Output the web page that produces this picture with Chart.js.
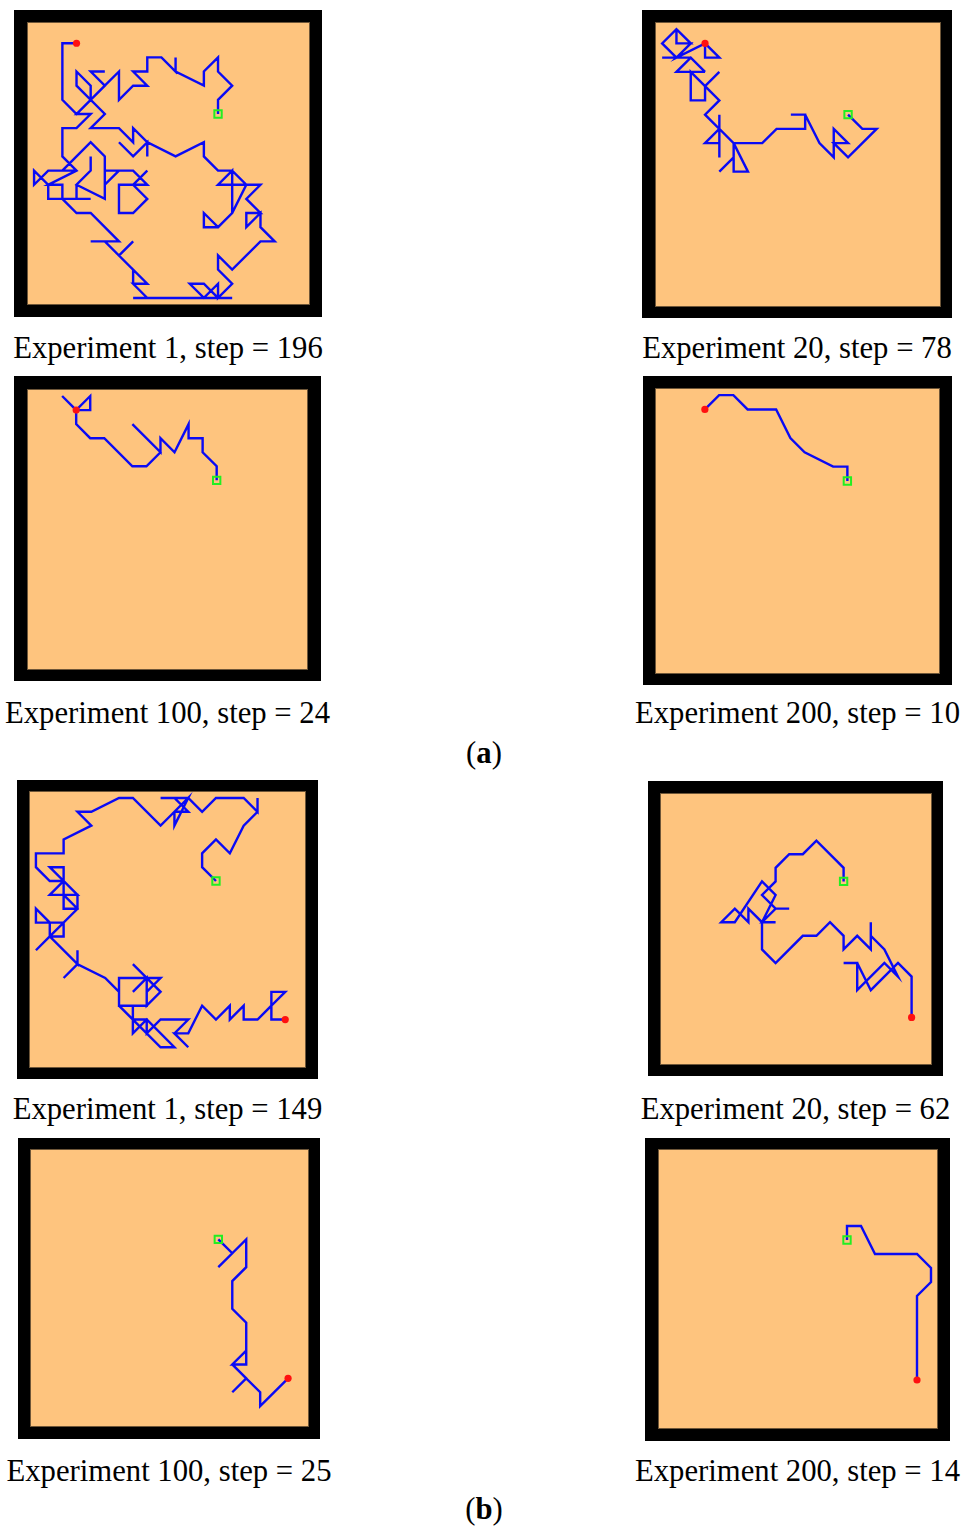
<!DOCTYPE html>
<html>
<head>
<meta charset="utf-8">
<script src="https://cdn.jsdelivr.net/npm/chart.js@4.4.1/dist/chart.umd.min.js"></script>
<style>
  body { margin: 0; background: #fff; width: 968px; height: 1529px; position: relative; overflow: hidden; }
  .frame { position: absolute; background: #000; }
  .panel { position: absolute; }
  .caption { position: absolute; width: 420px; text-align: center; font-family: "Liberation Serif", serif;
             font-size: 30.7px; line-height: 30px; color: #000; white-space: nowrap; }
</style>
</head>
<body>
<script>
// grid world is 20 x 20 cells, points are [column, row] with row 0 at the top
const gridCells = 20;

const captions = [
  'Experiment 1, step = 196', 'Experiment 20, step = 78',
  'Experiment 100, step = 24', 'Experiment 200, step = 10',
  'Experiment 1, step = 149', 'Experiment 20, step = 62',
  'Experiment 100, step = 25', 'Experiment 200, step = 14'
];
const partLabels = ['a', 'b'];

// (a) runs
const pathA1 = [[13,6],[13,5],[14,4],[13,3],[13,2],[12,3],[12,4],[10,3],[10,2],[10,3],[9,2],[8,2],[8,3],[7,3],[8,4],[7,4],
  [6,5],[6,3],[5,4],[4,3],[5,3],[4,3],[5,4],[4,5],[3,4],[3,3],[4,4],[4,5],[5,6],[4,7],[6,7],[7,8],[7,7],[8,8],[7,9],[6,8],
  [7,9],[8,8],[8,9],[8,8],[10,9],[12,8],[12,9],[13,10],[14,10],[15,11],[13,11],[14,10],[14,13],[13,14],[12,14],[12,13],
  [13,14],[14,13],[15,11],[16,11],[15,12],[16,13],[15,13],[15,14],[16,13],[16,14],[17,15],[16,15],[14,17],[13,16],[13,17],
  [14,18],[13,19],[13,18],[12,19],[11,18],[12,18],[13,19],[14,19],[7,19],[8,19],[7,18],[8,18],[7,17],[7,18],[7,17],[6,16],
  [7,15],[6,16],[5,15],[4,15],[6,15],[4,13],[3,13],[2,12],[4,12],[3,12],[3,11],[4,10],[4,9],[4,10],[3,11],[5,12],[5,11],
  [6,10],[5,11],[5,10],[7,10],[8,11],[6,11],[6,13],[7,13],[8,12],[7,11],[8,10],[7,11],[6,11],[8,11],[7,10],[5,10],[5,9],
  [4,8],[2,10],[3,10],[1,10],[0,11],[0,10],[1,11],[3,10],[1,11],[1,12],[2,12],[2,11],[1,11],[3,10],[2,9],[2,7],[3,7],
  [4,6],[3,6],[4,5],[3,6],[2,5],[2,1],[3,1]];
const pathA2 = [[13,6],[14,7],[15,7],[13,9],[12,8],[13,8],[12,7],[12,9],[11,8],[10,6],[9,6],[10,6],[10,7],[8,7],[7,8],[5,8],
  [6,10],[5,10],[5,9],[4,10],[5,9],[5,8],[4,7],[4,6],[4,7],[3,8],[4,8],[4,9],[4,7],[3,6],[4,5],[3,4],[4,3],[3,4],[2,3],
  [2,5],[3,5],[3,4],[2,3],[3,3],[1,3],[2,2],[3,3],[2,2],[0,2],[1,2],[0,1],[1,0],[2,1],[1,1],[1,0],[1,1],[2,1],[1,2],
  [3,1],[3,2],[4,2],[3,1]];
const pathA3 = [[13,6],[13,5],[12,4],[12,3],[11,3],[11,2],[10,4],[9,3],[9,4],[7,2],[9,4],[8,5],[7,5],[5,3],[4,3],[3,2],
  [3,1],[2,0],[3,1],[4,0],[4,1],[3,1]];
const pathA4 = [[13,6],[13,5],[12,5],[10,4],[9,3],[8,1],[6,1],[5,0],[4,0],[3,1]];

// (b) runs
const pathB1 = [[13,6],[12,5],[12,4],[13,3],[14,4],[15,2],[16,1],[16,0],[16,1],[15,0],[13,0],[12,1],[11,0],[9,0],[10,0],
  [11,1],[10,1],[11,0],[10,2],[10,1],[9,2],[7,0],[6,0],[4,1],[3,1],[4,2],[2,3],[2,4],[0,4],[0,5],[1,6],[2,6],[1,5],[2,5],
  [2,8],[3,8],[3,7],[1,7],[2,6],[3,7],[2,7],[3,8],[2,9],[0,9],[0,8],[1,9],[1,10],[2,10],[2,9],[1,10],[0,11],[1,10],[3,12],
  [3,11],[3,12],[2,13],[3,12],[5,13],[6,14],[6,13],[9,13],[8,14],[8,13],[7,14],[8,13],[7,12],[9,14],[8,15],[8,13],[8,15],
  [6,15],[6,14],[6,15],[9,18],[10,18],[8,16],[7,17],[7,15],[7,16],[8,16],[8,17],[9,16],[11,16],[10,17],[11,18],[10,17],
  [11,17],[12,15],[13,16],[14,15],[14,16],[15,15],[15,16],[16,16],[17,15],[17,14],[18,14],[17,15],[17,16],[18,16]];
const pathB2 = [[13,6],[13,5],[11,3],[10,4],[9,4],[8,5],[8,6],[7,7],[8,8],[9,8],[8,8],[7,9],[8,9],[7,9],[6,8],[6,9],[5,8],
  [4,9],[5,9],[7,6],[8,7],[7,9],[7,11],[8,12],[10,10],[11,10],[12,9],[13,10],[13,11],[14,10],[15,11],[15,10],[15,9],
  [15,10],[16,11],[17,13],[16,12],[14,14],[14,12],[13,12],[14,12],[15,14],[17,12],[18,13],[18,16]];
const pathB3 = [[13,6],[14,7],[13,8],[14,7],[15,6],[15,8],[14,9],[14,11],[15,12],[15,15],[14,15],[15,14],[14,15],[15,16],
  [14,17],[15,16],[16,17],[16,18],[18,16]];
const pathB4 = [[13,6],[13,5],[14,5],[15,7],[18,7],[19,8],[19,9],[18,10],[18,16]];

// page layout: black frame box and inner playing field for each run
const panels = [
  { path: pathA1, frame: [14, 10, 308, 307], field: [27, 22, 283, 283], textY: 333 },
  { path: pathA2, frame: [642, 10, 310, 308], field: [655, 22, 286, 285], textY: 333 },
  { path: pathA3, frame: [14, 376, 307, 305], field: [27, 389, 281, 281], textY: 698 },
  { path: pathA4, frame: [643, 376, 309, 309], field: [655, 388, 285, 286], textY: 698 },
  { path: pathB1, frame: [17, 780, 301, 299], field: [29, 791, 277, 277], textY: 1094 },
  { path: pathB2, frame: [648, 781, 295, 295], field: [660, 793, 272, 272], textY: 1094 },
  { path: pathB3, frame: [18, 1138, 302, 301], field: [30, 1149, 279, 278], textY: 1456 },
  { path: pathB4, frame: [645, 1138, 305, 303], field: [658, 1149, 280, 280], textY: 1456 }
];

const fieldBackground = {
  id: 'fieldBackground',
  beforeDatasetsDraw(chart) {
    const { ctx, chartArea: a } = chart;
    ctx.save();
    ctx.fillStyle = '#fec47e';
    ctx.fillRect(a.left, a.top, a.right - a.left, a.bottom - a.top);
    ctx.strokeStyle = '#6e5638';
    ctx.lineWidth = 1;
    ctx.strokeRect(a.left + 0.5, a.top + 0.5, a.right - a.left - 1, a.bottom - a.top - 1);
    ctx.restore();
  }
};

function addBox(cls, x, y, w, h) {
  const el = document.createElement(cls === 'canvas' ? 'canvas' : 'div');
  el.style.left = x + 'px';
  el.style.top = y + 'px';
  if (cls === 'canvas') {
    el.className = 'panel';
    el.width = w;
    el.height = h;
  } else {
    el.className = cls;
    el.style.width = w + 'px';
    el.style.height = h + 'px';
  }
  document.body.appendChild(el);
  return el;
}

function drawPanel(p, caption) {
  const [fx, fy, fw, fh] = p.frame;
  addBox('frame', fx, fy, fw, fh);
  const [x, y, w, h] = p.field;
  const canvas = addBox('canvas', x, y, w, h);

  const pts = p.path.map(c => ({ x: c[0], y: c[1] }));
  new Chart(canvas.getContext('2d'), {
    type: 'scatter',
    data: {
      datasets: [
        { data: [pts[pts.length - 1]], pointStyle: 'circle', pointRadius: 3.6,
          backgroundColor: '#ff1010', borderColor: '#ff1010', borderWidth: 0, order: 1 },
        { data: [pts[0]], pointStyle: 'rect', pointRadius: 5.2, backgroundColor: 'rgba(0,0,0,0)',
          borderColor: '#22ee22', borderWidth: 2, order: 2 },
        { data: pts, showLine: true, borderColor: '#0a0af5', borderWidth: 2.4, pointRadius: 0,
          tension: 0, order: 3 }
      ]
    },
    options: {
      responsive: false,
      animation: false,
      events: [],
      layout: { padding: 0, autoPadding: false },
      scales: {
        x: { type: 'linear', min: -0.5, max: gridCells - 0.5, display: false },
        y: { type: 'linear', min: -0.5, max: gridCells - 0.5, reverse: true, display: false }
      },
      plugins: { legend: { display: false }, tooltip: { enabled: false } }
    },
    plugins: [fieldBackground]
  });

  const cap = addBox('caption', fx + fw / 2 - 210, p.textY, 420, 30);
  cap.style.height = '';
  cap.textContent = caption;
}

panels.forEach((p, i) => drawPanel(p, captions[i]));

// sub-figure labels (a) and (b)
[738, 1494].forEach((top, i) => {
  const lab = addBox('caption', 484 - 210, top, 420, 30);
  lab.style.height = '';
  lab.innerHTML = '(<b>' + partLabels[i] + '</b>)';
});
</script>
</body>
</html>
